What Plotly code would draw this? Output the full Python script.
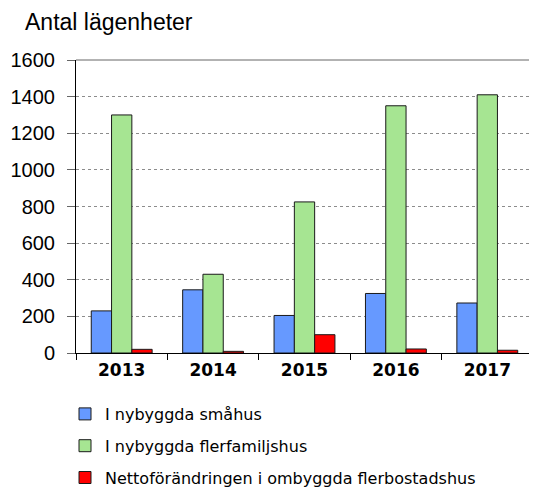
import plotly.graph_objects as go

years = ["2013", "2014", "2015", "2016", "2017"]
smahus = [230, 345, 205, 325, 273]
flerfamiljshus = [1300, 430, 825, 1350, 1410]
ombyggda = [20, 9, 100, 22, 15]

names = ["I nybyggda småhus", "I nybyggda flerfamiljshus", "Nettoförändringen i ombyggda flerbostadshus"]
colors = ["#6699ff", "#a6e592", "#ff0000"]
series = [smahus, flerfamiljshus, ombyggda]

fig = go.Figure()
for i, (nm, col, vals) in enumerate(zip(names, colors, series)):
    fig.add_trace(go.Bar(
        x=years, y=vals, name=nm, legendgroup=f"g{i}",
        marker=dict(color=col, line=dict(color="#1a1a1a", width=1)),
    ))

# page body has an 8px margin, so the figure is drawn 8px right/down
W, H = 529, 482
L, R, T, B = 68, 4, 52, 137
pw, ph = W - L - R, H - T - B

def px_x(x):
    return (x - L) / pw

def px_y(y):
    return (H - B - y) / ph

ARIAL = "Liberation Sans, Arial, sans-serif"
DEJAVU = "DejaVu Sans, sans-serif"

fig.update_layout(
    width=W, height=H,
    margin=dict(l=L, r=R, t=T, b=B, pad=0, autoexpand=False),
    paper_bgcolor="white", plot_bgcolor="white",
    font=dict(family=ARIAL, color="black"),
    barmode="group", bargap=0.334, bargroupgap=0,
    showlegend=True,
    legend=dict(
        x=px_x(57), y=px_y(389), xanchor="left", yanchor="top",
        font=dict(size=16, family=DEJAVU, color="black"), tracegroupgap=8,
        traceorder="grouped", bgcolor="rgba(0,0,0,0)",
    ),
    xaxis=dict(
        type="category", showgrid=False, showline=True, linecolor="black", linewidth=1,
        ticks="outside", tickson="boundaries", ticklen=6, tickcolor="black",
        tickfont=dict(size=17, family=DEJAVU, weight="bold", color="black"),
        ticklabelstandoff=2,
    ),
    yaxis=dict(
        range=[0, 1600], dtick=200, showgrid=True, gridcolor="#8c8c8c", griddash="dot",
        gridwidth=1, showline=True, linecolor="black", linewidth=1,
        ticks="outside", ticklen=8, tickcolor="#666666",
        tickfont=dict(size=20, family=ARIAL, color="black"), ticklabelstandoff=8,
        zeroline=False,
    ),
    shapes=[
        dict(type="line", xref="paper", yref="paper", x0=0, x1=1, y0=1, y1=1,
             line=dict(color="#666666", width=1)),
        dict(type="line", xref="paper", yref="paper", x0=1, x1=1, y0=0, y1=1,
             line=dict(color="#888888", width=1)),
    ],
    annotations=[
        dict(text="Antal lägenheter", xref="paper", yref="paper",
             x=px_x(15), y=px_y(14), xanchor="left", yanchor="middle",
             showarrow=False, font=dict(size=23, family=ARIAL, color="black")),
    ],
)

fig.write_html("out.html")
